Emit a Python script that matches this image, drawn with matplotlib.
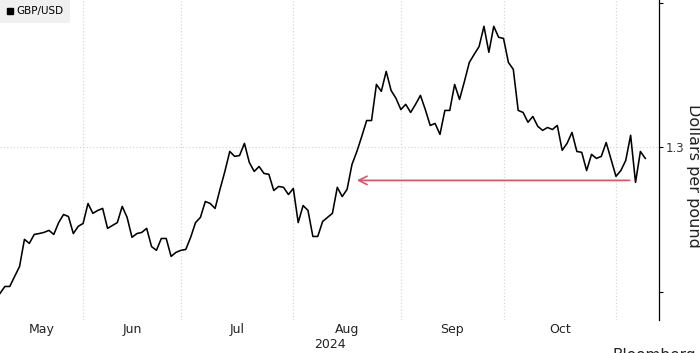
import numpy as np
import pandas as pd
import matplotlib
matplotlib.use("Agg")
import matplotlib.pyplot as plt
from matplotlib.lines import Line2D


# GBP/USD daily closes (business days)
START = "2024-05-09"
gbpusd = [
    1.2495, 1.2519, 1.2519, 1.2554, 1.2588, 1.2682, 1.2668, 1.2699, 1.2702, 1.2706,
    1.2713, 1.2699, 1.2740, 1.2768, 1.2761, 1.2702, 1.2727, 1.2737, 1.2806, 1.2772,
    1.2782, 1.2789, 1.2720, 1.2730, 1.2740, 1.2796, 1.2758, 1.2689, 1.2702, 1.2706,
    1.2720, 1.2657, 1.2644, 1.2685, 1.2685, 1.2623, 1.2637, 1.2644, 1.2647, 1.2689,
    1.2740, 1.2758, 1.2813, 1.2806, 1.2789, 1.2855, 1.2917, 1.2986, 1.2969, 1.2972,
    1.3014, 1.2948, 1.2917, 1.2934, 1.2910, 1.2907, 1.2851, 1.2865, 1.2862, 1.2837,
    1.2858, 1.2740, 1.2799, 1.2782, 1.2692, 1.2692, 1.2744, 1.2758, 1.2772, 1.2862,
    1.2830, 1.2855, 1.2941, 1.2986, 1.3038, 1.3093, 1.3093, 1.3218, 1.3194, 1.3263,
    1.3197, 1.3170, 1.3131, 1.3149, 1.3121, 1.3149, 1.3180, 1.3131, 1.3076, 1.3083,
    1.3045, 1.3128, 1.3128, 1.3218, 1.3166, 1.3228, 1.3294, 1.3322, 1.3349, 1.3419,
    1.3329, 1.3419, 1.3381, 1.3377, 1.3294, 1.3270, 1.3128, 1.3121, 1.3087, 1.3107,
    1.3073, 1.3059, 1.3069, 1.3062, 1.3076, 1.2990, 1.3014, 1.3052, 1.2986, 1.2983,
    1.2920, 1.2976, 1.2962, 1.2969, 1.3017, 1.2958, 1.2900, 1.2920, 1.2955, 1.3042,
    1.2879, 1.2986, 1.2962,
]
yticks = [1.25, 1.30, 1.35]
ytick_labels = ["", "1.3", ""]

# arrow: from the post-election low back to the same level in August
arrow_level = 1.2886
arrow_from = 128.8
arrow_to = 73.0

dates = pd.bdate_range(START, periods=len(gbpusd))
x = np.arange(len(gbpusd))

fig = plt.figure(figsize=(7, 3.53), dpi=100)
ax = fig.add_axes([0.0, 0.0935, 0.9414, 0.9065])

ax.plot(x, gbpusd, color="black", lw=1.15, zorder=3)

ax.set_xlim(0, 134.8)
ax.set_ylim(1.2403, 1.351)

# month boundaries -> gridlines, labels centred between them
month_starts = [i for i in range(1, len(dates)) if dates[i].month != dates[i - 1].month]
bounds = [ax.get_xlim()[0]] + month_starts
label_pos = [(a + b) / 2 for a, b in zip(bounds[:-1], bounds[1:])]
label_txt = [dates[int(np.ceil(p))].strftime("%b") for p in label_pos]

ax.set_xticks(month_starts)
ax.set_xticklabels([])
ax.set_xticks(label_pos, minor=True)
ax.set_xticklabels(label_txt, minor=True)
ax.tick_params(axis="x", which="both", length=0, pad=2, labelsize=9, labelcolor="#222222")
ax.grid(axis="x", which="major", color="#d8d8d8", linestyle=":", lw=0.9)

ax.yaxis.tick_right()
ax.set_yticks(yticks)
ax.set_yticklabels(ytick_labels)
ax.tick_params(axis="y", length=3, width=0.8, pad=2, labelsize=8.5, labelcolor="#333333")
ax.axhline(1.30, color="#d8d8d8", linestyle=":", lw=0.9, zorder=1)

for s in ["top", "left", "bottom"]:
    ax.spines[s].set_visible(False)
ax.spines["right"].set_linewidth(0.9)

ax.annotate("", xy=(arrow_to, arrow_level), xytext=(arrow_from, arrow_level),
            arrowprops=dict(arrowstyle="->,head_length=0.6,head_width=0.3",
                            color="#d9546a", lw=1.2, shrinkA=0, shrinkB=0))

ax.legend(handles=[Line2D([], [], marker="s", color="black", linestyle="none", markersize=5)],
          labels=["GBP/USD"], loc="upper left", frameon=True, facecolor="#f0f0f0",
          edgecolor="none", fancybox=False, framealpha=1, borderaxespad=0,
          handletextpad=0.2, handlelength=0.8, fontsize=7.5, borderpad=0.6)

fig.text(0.5 * 0.9414, 1 - 344 / 353, "2024", ha="center", va="center",
         fontsize=9, color="#222222")
fig.text(694 / 700, 1 - 176 / 353, "Dollars per pound", rotation=-90,
         ha="center", va="center", fontsize=11.5, color="#222222")
fig.text(612 / 700, 1 - 348 / 353, "Bloomberg", ha="left", va="top",
         fontsize=11, color="#222222")

fig.savefig("out.png", dpi=100)
